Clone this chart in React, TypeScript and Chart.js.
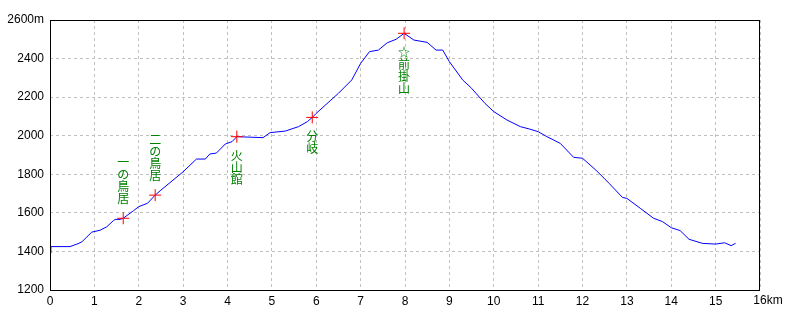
import React, { useEffect, useRef } from "react";
import { Chart, registerables } from "chart.js";
Chart.register(...registerables);

const distKm = [0, 0.02, 0.45, 0.63, 0.72, 0.94, 1.13, 1.28, 1.43, 1.47, 1.58, 1.65, 1.88, 2.0, 2.2, 2.37, 2.5, 3.0, 3.2, 3.3, 3.5, 3.6, 3.75, 3.95, 4.1, 4.21, 4.8, 4.96, 5.3, 5.6, 5.8, 5.91, 6.0, 6.5, 6.8, 7.0, 7.2, 7.4, 7.6, 7.8, 7.98, 8.2, 8.5, 8.7, 8.85, 9.0, 9.3, 9.5, 9.8, 10.0, 10.3, 10.6, 10.8, 11.0, 11.2, 11.5, 11.8, 12.0, 12.3, 12.6, 12.9, 13.0, 13.3, 13.6, 13.8, 14.0, 14.2, 14.4, 14.7, 15.0, 15.2, 15.35, 15.45];
const elevM = [1390, 1425, 1425, 1440, 1450, 1500, 1510, 1528, 1560, 1566, 1566, 1572, 1611, 1632, 1650, 1692, 1718, 1813, 1857, 1879, 1879, 1905, 1910, 1957, 1969, 1995, 1990, 2016, 2024, 2047, 2073, 2095, 2116, 2220, 2289, 2375, 2436, 2444, 2482, 2500, 2531, 2496, 2484, 2444, 2444, 2384, 2289, 2246, 2168, 2125, 2081, 2047, 2035, 2021, 1995, 1960, 1888, 1883, 1822, 1753, 1680, 1675, 1624, 1572, 1555, 1523, 1508, 1463, 1442, 1438, 1445, 1430, 1442];

const markerKm = [1.65, 2.37, 4.21, 5.91, 7.98];
const markerElev = [1572, 1692, 1995, 2095, 2531];
const markerNames = ["一の鳥居", "二の鳥居", "火山館", "分岐", "☆前掛山"];
const markerAbove = [true, true, false, false, false];

const xTicks = [0, 1, 2, 3, 4, 5, 6, 7, 8, 9, 10, 11, 12, 13, 14, 15, 16];
const yTicks = [1200, 1400, 1600, 1800, 2000, 2200, 2400, 2600];

const TICK_FONT = "12px 'Liberation Sans', Arial, sans-serif";

const overlay = {
  id: "overlay",
  afterDraw(chart: any) {
    const { ctx, chartArea, scales } = chart;
    ctx.save();
    ctx.strokeStyle = "#000";
    ctx.lineWidth = 1;
    ctx.strokeRect(chartArea.left + 0.5, chartArea.top + 0.5, chartArea.right - chartArea.left - 1, chartArea.bottom - chartArea.top);
    ctx.font = TICK_FONT;
    ctx.fillStyle = "#000";
    ctx.textBaseline = "top";
    ctx.textAlign = "left";
    const last = xTicks[xTicks.length - 1];
    const px = scales.x.getPixelForValue(last);
    const w = ctx.measureText(String(last)).width;
    ctx.fillText(String(last) + "km", px - w / 2, chartArea.bottom + 5);
    ctx.font = "12px 'Noto Sans CJK JP', sans-serif";
    ctx.fillStyle = "#008000";
    ctx.textAlign = "center";
    ctx.textBaseline = "middle";
    markerNames.forEach((name, i) => {
      const mx = scales.x.getPixelForValue(markerKm[i]);
      const my = scales.y.getPixelForValue(markerElev[i]);
      const chars = Array.from(name);
      const step = 12;
      chars.forEach((c, j) => {
        let cy;
        if (markerAbove[i]) cy = my - 20 - (chars.length - 1 - j) * step;
        else cy = my + 19 + j * step;
        ctx.fillText(c, mx, cy);
      });
    });
    ctx.restore();
  },
};

export default function App() {
  const ref = useRef<HTMLCanvasElement>(null);
  useEffect(() => {
    document.body.style.margin = "0";
    const chart = new Chart(ref.current!, {
      type: "scatter",
      data: {
        datasets: [
          {
            type: "line",
            data: distKm.map((x, i) => ({ x, y: elevM[i] })),
            borderColor: "#0000ff",
            borderWidth: 1,
            pointRadius: 0,
            tension: 0,
            fill: false,
            order: 2,
          } as any,
          {
            data: markerKm.map((x, i) => ({ x, y: markerElev[i] })),
            pointStyle: "cross",
            pointRadius: 6,
            borderColor: "#ff0000",
            backgroundColor: "#ff0000",
            borderWidth: 1,
            order: 1,
          },
        ],
      },
      options: {
        responsive: false,
        animation: false,
        layout: { padding: { left: 0, right: 40, top: 20, bottom: 0 } },
        plugins: { legend: { display: false }, tooltip: { enabled: false } },
        scales: {
          x: {
            type: "linear",
            min: 0,
            max: 16,
            afterBuildTicks: (s: any) => {
              s.ticks = xTicks.map((v) => ({ value: v }));
            },
            afterFit: (s: any) => {
              s.height = 30;
            },
            ticks: {
              color: "#000",
              font: { family: "'Liberation Sans', Arial, sans-serif", size: 12 },
              padding: 4,
              maxRotation: 0,
              autoSkip: false,
              callback: (v: any) => (v === 16 ? "" : String(v)),
            },
            grid: { color: "#c0c0c0", drawTicks: false, lineWidth: 1 },
            border: { display: false, dash: [3, 3] },
          },
          y: {
            type: "linear",
            min: 1200,
            max: 2600,
            afterBuildTicks: (s: any) => {
              s.ticks = yTicks.map((v) => ({ value: v }));
            },
            afterFit: (s: any) => {
              s.width = 50;
            },
            ticks: {
              color: "#000",
              font: { family: "'Liberation Sans', Arial, sans-serif", size: 12 },
              padding: 6,
              autoSkip: false,
              callback: (v: any) => (v === 2600 ? "2600m" : String(v)),
            },
            grid: { color: "#c0c0c0", drawTicks: false, lineWidth: 1 },
            border: { display: false, dash: [3, 3] },
          },
        },
      },
      plugins: [overlay],
    });
    return () => chart.destroy();
  }, []);
  return <canvas ref={ref} width={800} height={320} style={{ display: "block" }} />;
}
